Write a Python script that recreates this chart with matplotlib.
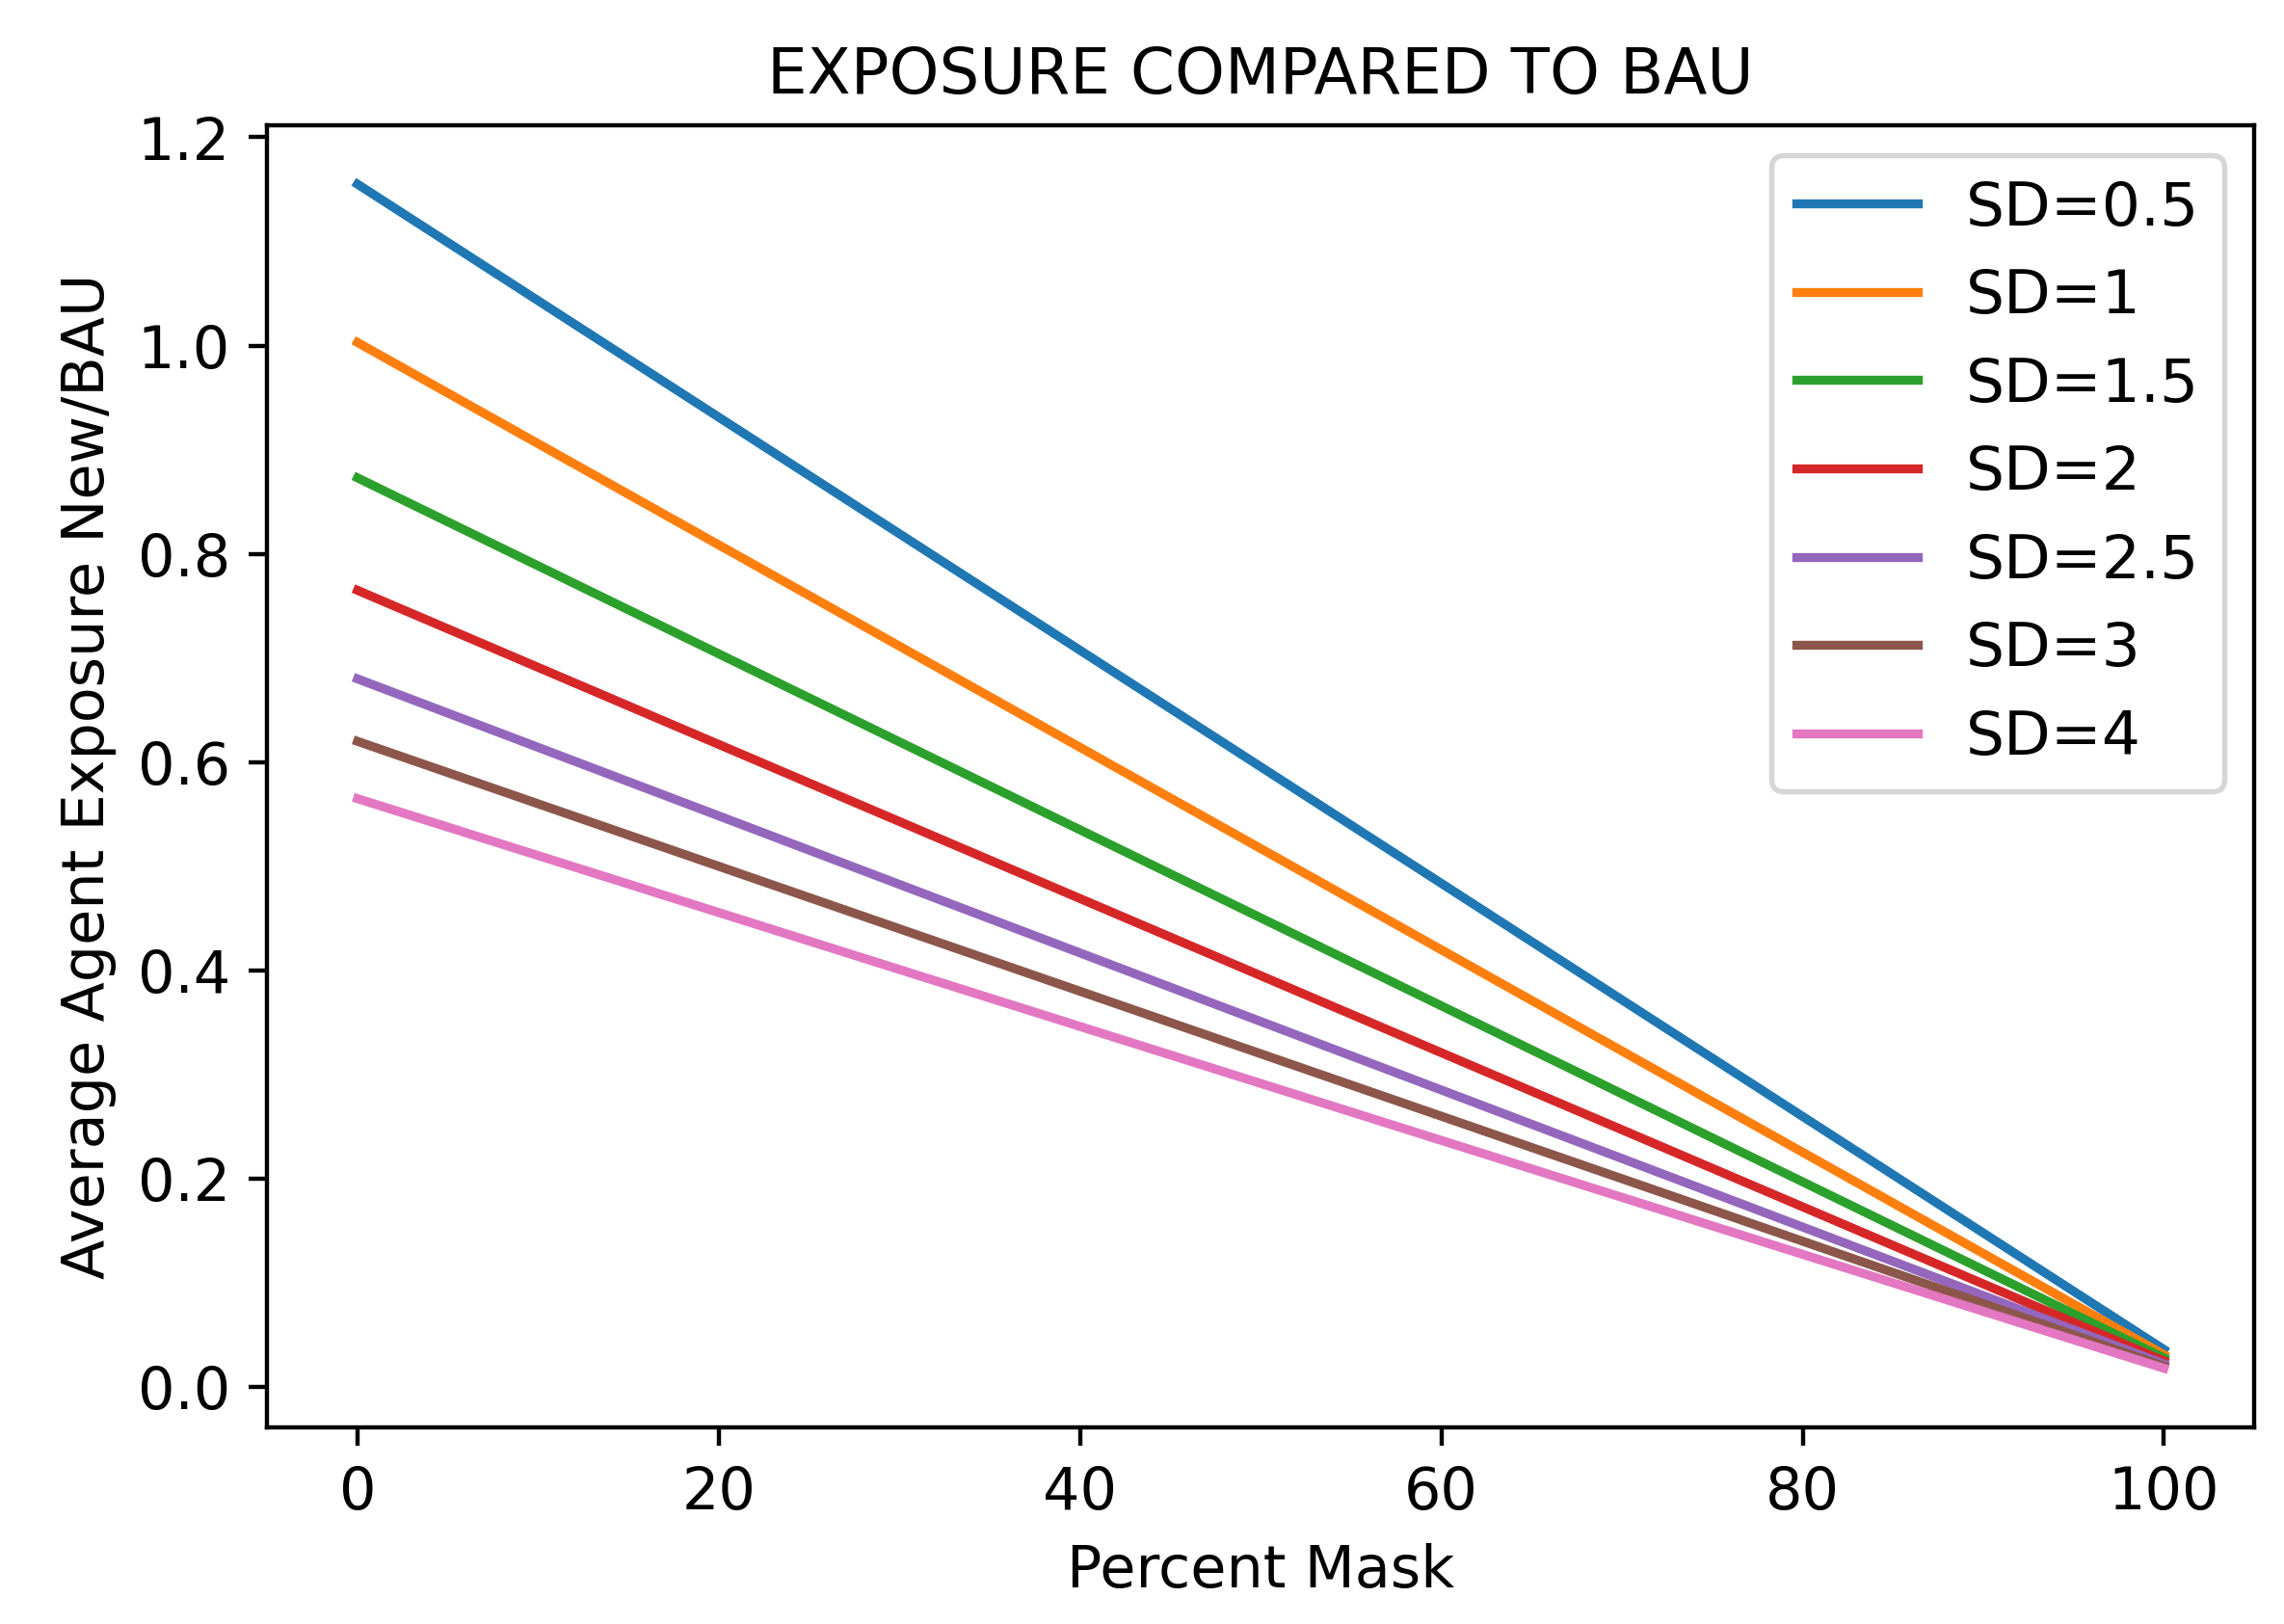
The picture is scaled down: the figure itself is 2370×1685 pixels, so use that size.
import matplotlib
matplotlib.use("Agg")
import matplotlib.pyplot as plt

percent_mask = [0, 100]
labels = ["SD=0.5", "SD=1", "SD=1.5", "SD=2", "SD=2.5", "SD=3", "SD=4"]
start_vals = [1.155, 1.003, 0.873, 0.765, 0.680, 0.620, 0.565]
end_vals = [0.036, 0.031, 0.028, 0.025, 0.022, 0.020, 0.018]

plt.rcParams['font.size'] = 11
fig, ax = plt.subplots(figsize=(6, 4.266), dpi=395)
for lab, s, e in zip(labels, start_vals, end_vals):
    ax.plot(percent_mask, [s, e], label=lab, lw=1.7)

ax.set_title("EXPOSURE COMPARED TO BAU", fontsize=12)
ax.set_xlabel("Percent Mask")
ax.set_ylabel("Average Agent Exposure New/BAU")
ax.set_xticks([0, 20, 40, 60, 80, 100])
ax.set_yticks([0.0, 0.2, 0.4, 0.6, 0.8, 1.0, 1.2])
ax.legend(loc="upper right", fontsize=11.5)
fig.subplots_adjust(left=0.117, right=0.987, top=0.923, bottom=0.121)
fig.savefig("out.png")
